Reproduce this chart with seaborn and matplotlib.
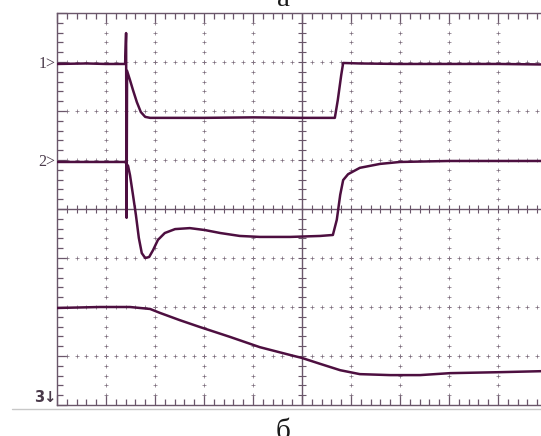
import numpy as np
import pandas as pd
import matplotlib
matplotlib.use("Agg")
import matplotlib.pyplot as plt
import seaborn as sns
from matplotlib.ticker import MultipleLocator

# ---- data (in screen divisions: x 0..10 from left, y 0..8 from bottom) ----
ch1_x = [0.00, 0.60, 1.00, 1.39, 1.41, 1.42, 1.43, 1.49, 1.55, 1.63, 1.71, 1.80, 1.90,
         3.00, 4.00, 5.00, 5.67, 5.73, 5.80, 5.84, 6.18, 7.00, 8.00, 9.00, 9.88]
ch1_y = [6.96, 6.97, 6.96, 6.96, 7.59, 3.82, 6.82, 6.63, 6.43, 6.18, 5.98, 5.88, 5.86,
         5.86, 5.87, 5.86, 5.86, 6.22, 6.73, 6.98, 6.97, 6.96, 6.96, 6.96, 6.95]

ch2_x = [0.00, 0.70, 1.39, 1.45, 1.49, 1.55, 1.61, 1.67, 1.73, 1.80, 1.88, 1.96, 2.06,
         2.20, 2.41, 2.71, 3.02, 3.33, 3.73, 4.14, 4.76, 5.37, 5.63, 5.71, 5.78, 5.84,
         5.94, 6.18, 6.59, 7.00, 8.00, 9.88]
ch2_y = [4.96, 4.96, 4.96, 4.88, 4.69, 4.29, 3.88, 3.41, 3.10, 3.00, 3.02, 3.16, 3.37,
         3.51, 3.59, 3.61, 3.57, 3.51, 3.45, 3.43, 3.43, 3.45, 3.47, 3.78, 4.29, 4.59,
         4.71, 4.84, 4.92, 4.96, 4.98, 4.98]

ch3_x = [0.00, 0.88, 1.49, 1.90, 2.10, 2.51, 2.92, 3.53, 4.14, 4.76, 5.00, 5.37, 5.78,
         6.18, 6.80, 7.41, 8.02, 9.04, 9.88]
ch3_y = [1.98, 2.00, 2.00, 1.96, 1.88, 1.73, 1.59, 1.39, 1.18, 1.02, 0.96, 0.84, 0.71,
         0.63, 0.61, 0.61, 0.65, 0.67, 0.69]

labels = ["1>", "2>", "3\u2193"]
label_y = [6.96, 4.96, 0.16]
top_title = "а"
bottom_title = "б"

TRACE = "#4d0f40"
GRID = "#7a6a7a"
BORDER = "#6a566a"

sns.set_theme(style="white")
plt.rcParams["font.family"] = ["Liberation Serif", "DejaVu Serif"]

fig = plt.figure(figsize=(5.41, 4.36), dpi=100)
W, H = 541, 436
x0, x1 = 57, 541
y0, y1 = 13, 405
div = 49.0
ax = fig.add_axes([x0 / W, 1 - y1 / H, (x1 - x0) / W, (y1 - y0) / H])
xmax = (x1 - x0) / div
ax.set_xlim(0, xmax)
ax.set_ylim(0, 8)

# graticule: dotted "+" marks along each major division line
gx, gy = [], []
for xv in range(1, 10):
    if xv == 5:
        continue
    for yy in np.arange(0.2, 8.0, 0.2):
        gx.append(xv); gy.append(yy)
for yv in range(1, 8):
    if yv == 4:
        continue
    for xx in np.arange(0.2, xmax, 0.2):
        gx.append(xx); gy.append(yv)
ax.scatter(gx, gy, marker="+", s=5, linewidths=0.5, color=GRID, zorder=1)

# centre lines with tick marks
ax.axhline(4, color=BORDER, lw=1.0, zorder=1)
ax.axvline(5, color=BORDER, lw=1.0, zorder=1)
cx = np.arange(0.2, xmax, 0.2)
ax.scatter(cx, np.full_like(cx, 4.0), marker="|", s=30, linewidths=0.8, color=BORDER, zorder=1)
cy = np.arange(0.2, 8.0, 0.2)
ax.scatter(np.full_like(cy, 5.0), cy, marker="_", s=30, linewidths=0.8, color=BORDER, zorder=1)

# traces
for xs, ys in [(ch1_x, ch1_y), (ch2_x, ch2_y), (ch3_x, ch3_y)]:
    df = pd.DataFrame({"x": xs, "y": ys})
    sns.lineplot(data=df, x="x", y="y", ax=ax, color=TRACE, lw=1.8,
                 sort=False, estimator=None, zorder=3)

ax.set_xlabel("")
ax.set_ylabel("")
ax.xaxis.set_major_locator(MultipleLocator(1))
ax.xaxis.set_minor_locator(MultipleLocator(0.2))
ax.yaxis.set_major_locator(MultipleLocator(1))
ax.yaxis.set_minor_locator(MultipleLocator(0.2))
ax.tick_params(which="both", direction="in", top=True, bottom=True, left=True, right=False,
               labelbottom=False, labelleft=False, color=BORDER, width=0.9)
ax.tick_params(which="major", length=7)
ax.tick_params(which="minor", length=4)
for s in ["top", "bottom", "left"]:
    ax.spines[s].set_color(BORDER)
    ax.spines[s].set_linewidth(1.0)
ax.spines["right"].set_visible(False)

# channel labels
for lab, yv in zip(labels[:2], label_y[:2]):
    ax.text(-0.03, yv, lab, ha="right", va="center", fontsize=11.5, color="#4a3a4a",
            clip_on=False)
ax.text(-0.02, label_y[2], labels[2], ha="right", va="center", fontsize=10.5,
        color="#4a3a4a", fontweight="bold", clip_on=False,
        family=["DejaVu Sans"])

# titles and separator line
fig.text(283 / W, 1 - 6 / H, top_title, ha="center", va="baseline", fontsize=21, color="#1a1a1a")
fig.text(283 / W, 1 - 439 / H, bottom_title, ha="center", va="baseline", fontsize=21, color="#1a1a1a")
fig.add_artist(plt.Line2D([12 / W, 1.0], [1 - 409 / H, 1 - 409 / H], color="#c8c8c8", lw=1.0))

fig.savefig("out.png", dpi=100)
